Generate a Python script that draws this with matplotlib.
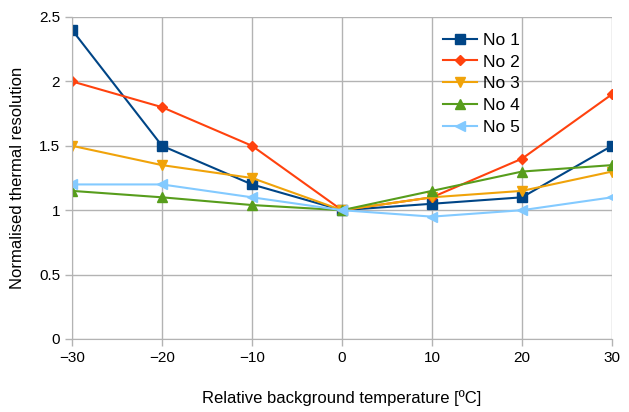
import matplotlib
matplotlib.use("Agg")
import matplotlib.pyplot as plt

x = [-30, -20, -10, 0, 10, 20, 30]
no1 = [2.4, 1.5, 1.2, 1.0, 1.05, 1.1, 1.5]
no2 = [2.0, 1.8, 1.5, 1.0, 1.1, 1.4, 1.9]
no3 = [1.5, 1.35, 1.25, 1.0, 1.1, 1.15, 1.3]
no4 = [1.15, 1.1, 1.04, 1.0, 1.15, 1.3, 1.35]
no5 = [1.2, 1.2, 1.1, 1.0, 0.95, 1.0, 1.1]
labels = ["No 1", "No 2", "No 3", "No 4", "No 5"]
colors = ["#004586", "#ff420e", "#f0a30a", "#579d1c", "#83caff"]
markers = ["s", "D", "v", "^", "<"]
msizes = [7, 5, 7, 7, 7]

plt.rcParams['font.family'] = ['Liberation Sans', 'DejaVu Sans']
fig = plt.figure(figsize=(6.29, 4.12), dpi=100)
ax = fig.add_axes([72/629, 1-339/412, 540/629, 322/412])

for ys, lab, c, m, ms in zip([no1, no2, no3, no4, no5], labels, colors, markers, msizes):
    ax.plot(x, ys, color=c, marker=m, markersize=ms, linewidth=1.5, label=lab)

ax.set_xlim(-30, 30)
ax.set_ylim(0, 2.5)
ax.set_xticks(x)
ax.set_xticklabels(["\u221230", "\u221220", "\u221210", "0", "10", "20", "30"])
ax.set_yticks([0, 0.5, 1, 1.5, 2, 2.5])
ax.set_yticklabels(["0", "0.5", "1", "1.5", "2", "2.5"])
ax.grid(True, color="#b3b3b3", linewidth=1)
ax.set_axisbelow(True)
for s in ax.spines.values():
    s.set_visible(False)
ax.spines['left'].set_visible(True)
ax.spines['bottom'].set_visible(True)
ax.spines['left'].set_color("#b3b3b3")
ax.spines['bottom'].set_color("#b3b3b3")
ax.tick_params(axis='both', colors="#b3b3b3", labelcolor="black", labelsize=11, length=5, width=1)
ax.set_xlabel("Relative background temperature [ºC]", fontsize=12, labelpad=18)
ax.set_ylabel("Normalised thermal resolution", fontsize=12, labelpad=10)
leg = ax.legend(loc="upper left", bbox_to_anchor=(355/540, 1.0), frameon=False, fontsize=12.5,
                handlelength=2.0, handletextpad=0.3, labelspacing=0.38)
fig.savefig("out.png", dpi=100)
